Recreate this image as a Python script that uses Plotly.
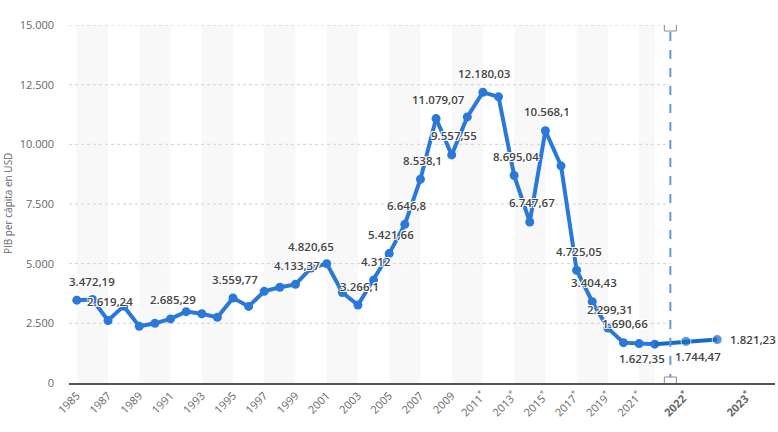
import plotly.graph_objects as go

# PIB per capita (USD)
years = ["1985", "1986", "1987", "1988", "1989", "1990", "1991", "1992", "1993", "1994",
         "1995", "1996", "1997", "1998", "1999", "2000", "2001", "2002", "2003", "2004",
         "2005", "2006", "2007", "2008", "2009", "2010", "2011*", "2012*", "2013*", "2014*",
         "2015*", "2016*", "2017*", "2018*", "2019*", "2020*", "2021*", "2022*"]
values = [3472.19, 3500, 2619.24, 3220, 2380, 2500, 2685.29, 2990, 2900, 2750,
          3559.77, 3210, 3840, 4010, 4133.37, 4820.65, 5000, 3790, 3266.1, 4312,
          5421.66, 6646.8, 8538.1, 11079.07, 9557.55, 11150, 12180.03, 11990, 8695.04, 6747.67,
          10568.1, 9100, 4725.05, 3404.43, 2299.31, 1690.66, 1650, 1627.35]
labelled = ["1985", "1987", "1991", "1995", "1999", "2000", "2003", "2004", "2005", "2006",
            "2007", "2008", "2009", "2011*", "2013*", "2014*", "2015*", "2017*", "2018*",
            "2019*", "2020*", "2022*"]

forecast_years = ["2022* ", "2023* "]
forecast_values = [1744.47, 1821.23]

BLUE = "#2a78d8"
BLUE_DARK = "#176bc8"
GREY = "#666666"


def fmt(v):  # formato espanol: 3.472,19
    s = f"{v:,.2f}".rstrip("0").rstrip(".")
    return s.replace(",", "#").replace(".", ",").replace("#", ".")


label_font = dict(family="Open Sans", size=11.5, color="#444444", weight=600,
                  shadow="-1px -1px 0 #fff, 1px -1px 0 #fff, -1px 1px 0 #fff, 1px 1px 0 #fff")

# desplazamiento de algunas etiquetas (px)
label_shift = {"1985": (15, 19), "2000": (0, 21), "2022*": (-13, -14),
               "2022* ": (12, -15), "2023* ": (36, 0)}

# categorias del eje, con huecos en la zona de prevision
cats = years + [" ", forecast_years[0], "  ", forecast_years[1]]

fig = go.Figure()
fig.add_trace(go.Scatter(
    x=years, y=values, mode="lines+markers",
    line=dict(color=BLUE, width=4), marker=dict(size=9, color=BLUE),
    cliponaxis=False, showlegend=False))
fig.add_trace(go.Scatter(
    x=[years[-1]] + forecast_years, y=[values[-1]] + forecast_values,
    mode="lines+markers",
    line=dict(color=BLUE_DARK, width=4), marker=dict(size=[0, 10, 10], color=BLUE_DARK),
    cliponaxis=False, showlegend=False))

annotations = []
points = [(y, v) for y, v in zip(years, values) if y in labelled] + list(zip(forecast_years, forecast_values))
for y, v in points:
    dx, dy = label_shift.get(y, (2, 19))
    annotations.append(dict(x=cats.index(y), y=v, text=fmt(v), showarrow=False,
                            xshift=dx, yshift=dy, font=label_font))
annotations.append(dict(text="PIB per cápita en USD", xref="paper", yref="paper",
                        x=0, y=0.5, xshift=-61, xanchor="center", yanchor="middle",
                        textangle=-90, showarrow=False,
                        font=dict(size=10, color=GREY)))

shapes = []
# bandas grises alternas
for k in range(0, 38, 4):
    shapes.append(dict(type="rect", xref="x", yref="y", x0=k, x1=min(k + 2, 37), y0=0, y1=15000,
                       fillcolor="#f8f8f8", line=dict(width=0), layer="below"))
# lineas de rejilla punteadas (solo hasta la prevision)
for v in range(2500, 15001, 2500):
    shapes.append(dict(type="line", xref="x", yref="y", x0=-0.5, x1=38, y0=v, y1=v,
                       line=dict(color="#d0d0d0", width=1, dash="dot"), layer="below"))
# separador de prevision
shapes.append(dict(type="line", xref="x", yref="y", x0=38, x1=38, y0=0, y1=15000,
                   line=dict(color="#5f9bd9", width=2, dash="dash")))
for yv in (0, 15000):
    shapes.append(dict(type="rect", xref="x", yref="y", xsizemode="pixel", ysizemode="pixel",
                       xanchor=38, yanchor=yv, x0=-6, x1=6, y0=-6, y1=6,
                       fillcolor="white", line=dict(color="#8a8a8a", width=1)))

tickvals = years[::2] + [forecast_years[0], 43]
ticktext = [y.replace("*", "<sup>*</sup>") for y in years[::2]] + \
           ["<b>2022<sup>*</sup></b>", "<b>2023<sup>*</sup></b>"]

fig.update_layout(
    width=778, height=432,
    margin=dict(l=69, r=3, t=25, b=49, autoexpand=False),
    plot_bgcolor="white", paper_bgcolor="white",
    separators=",.",
    font=dict(family="Open Sans", color=GREY, size=11),
    shapes=shapes,
    annotations=annotations,
    xaxis=dict(type="category", categoryorder="array", categoryarray=cats,
               range=[-0.5, 44.7], showgrid=False, zeroline=False, automargin=False,
               showline=True, linecolor="#555555", linewidth=2,
               tickmode="array", tickvals=tickvals, ticktext=ticktext,
               tickangle=-45, tickfont=dict(size=11, color=GREY)),
    yaxis=dict(range=[0, 15000], dtick=2500, tickformat=",d", showgrid=False,
               zeroline=False, showline=False, ticklabelstandoff=14, automargin=False,
               tickfont=dict(size=11, color=GREY)),
)

fig.write_html("out.html", config={"displayModeBar": False},
               post_script="document.body.style.margin='0';")
